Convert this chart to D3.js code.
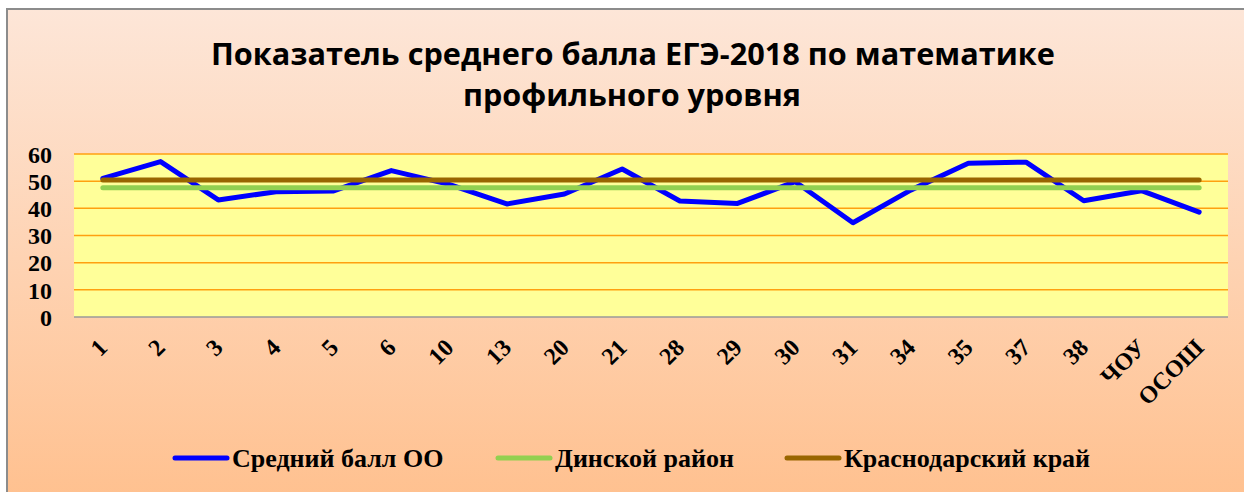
<!DOCTYPE html>
<html>
<head>
<meta charset="utf-8">
<script src="https://cdn.jsdelivr.net/npm/d3@7"></script>
<style>
  html, body { margin: 0; padding: 0; background: #fff; }
  svg { display: block; }
</style>
</head>
<body>
<svg id="chart"></svg>
<script>
// data
var categories = ["1", "2", "3", "4", "5", "6", "10", "13", "20", "21", "28", "29", "30", "31", "34", "35", "37", "38", "ЧОУ", "ОСОШ"];
var schoolScores = [51.0, 57.2, 43.1, 46.1, 46.4, 53.9, 48.8, 41.6, 45.3, 54.5, 42.7, 41.8, 49.8, 34.7, 46.7, 56.6, 57.0, 42.8, 46.5, 38.6];
var districtScores = [47.6, 47.6, 47.6, 47.6, 47.6, 47.6, 47.6, 47.6, 47.6, 47.6, 47.6, 47.6, 47.6, 47.6, 47.6, 47.6, 47.6, 47.6, 47.6, 47.6];
var regionScores = [50.4, 50.4, 50.4, 50.4, 50.4, 50.4, 50.4, 50.4, 50.4, 50.4, 50.4, 50.4, 50.4, 50.4, 50.4, 50.4, 50.4, 50.4, 50.4, 50.4];
var seriesNames = ["Средний балл ОО", "Динской район", "Краснодарский край"];
var yTicks = [0, 10, 20, 30, 40, 50, 60];
var titleLines = ["Показатель среднего балла ЕГЭ-2018 по математике", "профильного уровня"];

var W = 1244, H = 492;
var plot = {left: 74, right: 1228, top: 154, bottom: 317};
var serif = "'Liberation Serif', 'Times New Roman', serif";

var svg = d3.select("#chart").attr("width", W).attr("height", H);

// background gradient
var defs = svg.append("defs");
var grad = defs.append("linearGradient")
    .attr("id", "bg").attr("x1", 0).attr("y1", 0).attr("x2", 0).attr("y2", 1);
grad.append("stop").attr("offset", "0%").attr("stop-color", "#fde6d8");
grad.append("stop").attr("offset", "100%").attr("stop-color", "#ffbf8c");

svg.append("rect")
    .attr("x", 7).attr("y", 9)
    .attr("width", W + 20).attr("height", H + 20)
    .attr("fill", "url(#bg)")
    .attr("stroke", "#8c8c8c")
    .attr("stroke-width", 2);

// title
var title = svg.append("g").style("font-family", "'Open Sans', 'DejaVu Sans', sans-serif")
    .style("font-weight", "bold").attr("fill", "#000");
title.append("text")
    .attr("x", 633).attr("y", 65)
    .attr("text-anchor", "middle")
    .style("font-size", "31px")
    .attr("textLength", 844).attr("lengthAdjust", "spacingAndGlyphs")
    .text(titleLines[0]);
title.append("text")
    .attr("x", 632).attr("y", 106)
    .attr("text-anchor", "middle")
    .style("font-size", "31px")
    .attr("textLength", 338).attr("lengthAdjust", "spacingAndGlyphs")
    .text(titleLines[1]);

// scales
var x = d3.scaleBand().domain(categories).range([plot.left, plot.right]);
var y = d3.scaleLinear().domain([0, 60]).range([plot.bottom, plot.top]);
var cx = function(c) { return x(c) + x.bandwidth() / 2; };

// plot area
svg.append("rect")
    .attr("x", plot.left).attr("y", plot.top)
    .attr("width", plot.right - plot.left).attr("height", plot.bottom - plot.top)
    .attr("fill", "#ffff99");

// gridlines
svg.append("g").selectAll("line")
    .data(yTicks.filter(function(t) { return t > 0; }))
    .enter().append("line")
    .attr("x1", plot.left).attr("x2", plot.right)
    .attr("y1", function(d) { return y(d); }).attr("y2", function(d) { return y(d); })
    .attr("stroke", "#ffa010").attr("stroke-width", 1.5);

// bottom axis line
svg.append("line")
    .attr("x1", plot.left).attr("x2", plot.right)
    .attr("y1", plot.bottom).attr("y2", plot.bottom)
    .attr("stroke", "#9a9a9a").attr("stroke-width", 1.5);

// y axis labels
var yAxis = d3.axisLeft(y).tickValues(yTicks).tickSize(0).tickPadding(0);
var yg = svg.append("g").attr("transform", "translate(52,0)").call(yAxis);
yg.select(".domain").remove();
yg.attr("font-family", null).attr("font-size", null);
yg.selectAll("text")
    .style("font-family", serif)
    .style("font-weight", "bold").style("font-size", "24px").attr("fill", "#000")
    .attr("dy", "0.34em");

// x axis labels
var xg = svg.append("g");
xg.selectAll("text").data(categories).enter().append("text")
    .attr("transform", function(d) { return "translate(" + (cx(d) + 6) + ",349) rotate(-45)"; })
    .attr("text-anchor", "end")
    .style("font-family", serif)
    .style("font-weight", "bold").style("font-size", "24px").attr("fill", "#000")
    .text(function(d) { return d; });

// lines
var colors = ["#0000ff", "#92d050", "#996600"];
var widths = [5, 5, 5];
var series = [schoolScores, districtScores, regionScores];
var line = d3.line()
    .x(function(d, i) { return cx(categories[i]); })
    .y(function(d) { return y(d); });

series.forEach(function(s, i) {
  svg.append("path")
      .datum(s)
      .attr("d", line)
      .attr("fill", "none")
      .attr("stroke", colors[i])
      .attr("stroke-width", widths[i])
      .attr("stroke-linejoin", "round")
      .attr("stroke-linecap", "round");
});

// legend
var legendX = [175, 498, 787];
var legend = svg.append("g");
seriesNames.forEach(function(name, i) {
  legend.append("line")
      .attr("x1", legendX[i]).attr("x2", legendX[i] + 52)
      .attr("y1", 458).attr("y2", 458)
      .attr("stroke", colors[i]).attr("stroke-width", 5)
      .attr("stroke-linecap", "round");
  legend.append("text")
      .attr("x", legendX[i] + 57).attr("y", 467)
      .style("font-family", serif)
      .style("font-weight", "bold").style("font-size", "26px").attr("fill", "#000")
      .text(name);
});
</script>
</body>
</html>
